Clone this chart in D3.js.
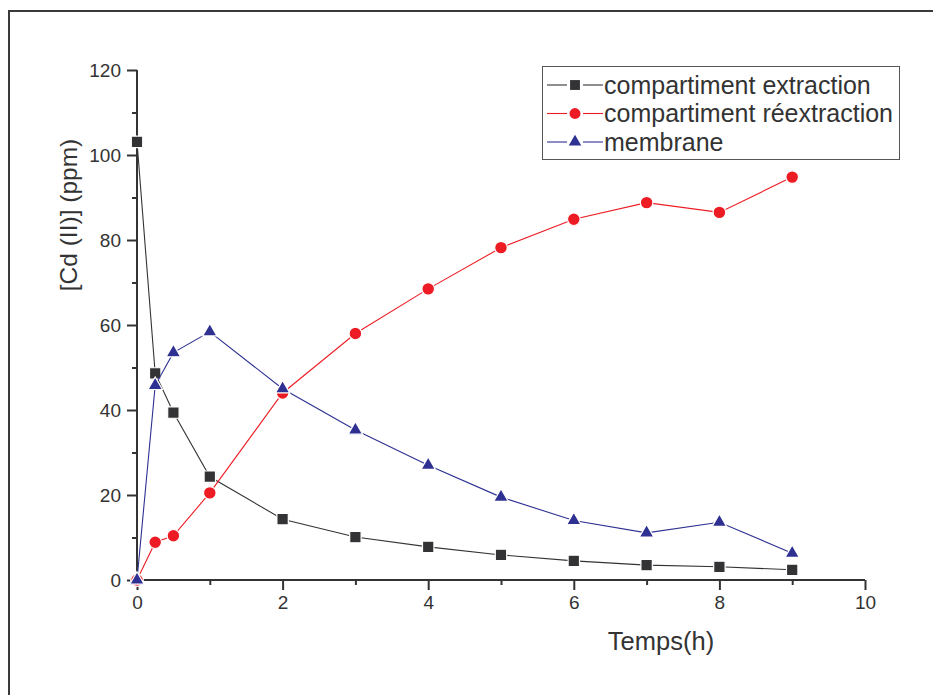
<!DOCTYPE html>
<html>
<head>
<meta charset="utf-8">
<script src="https://cdn.jsdelivr.net/npm/d3@7/dist/d3.min.js"></script>
<style>
  html, body { margin: 0; padding: 0; background: #fff; }
  svg { display: block; }
  text { font-family: "Liberation Sans", Arial, Helvetica, sans-serif; fill: #333; }
</style>
</head>
<body>
<svg id="chart" width="933" height="695"></svg>
<script>
// ---- data ----
const times = [0, 0.25, 0.5, 1, 2, 3, 4, 5, 6, 7, 8, 9];
const extraction = [103.1, 48.6, 39.4, 24.3, 14.3, 10.1, 7.8, 5.9, 4.5, 3.5, 3.1, 2.4];
const reextraction = [0, 8.9, 10.4, 20.5, 44.0, 58.0, 68.5, 78.2, 84.9, 88.8, 86.5, 94.8];
const membrane = [0, 45.8, 53.5, 58.4, 45.0, 35.3, 27.0, 19.5, 14.0, 11.1, 13.6, 6.3];
const seriesNames = ["compartiment extraction", "compartiment réextraction", "membrane"];
const xTicks = [0, 2, 4, 6, 8, 10];
const yTicks = [0, 20, 40, 60, 80, 100, 120];
const xLabel = "Temps(h)";
const yLabel = "[Cd (II)] (ppm)";

const svg = d3.select("#chart");
const W = 933, H = 695;

// outer frame
svg.append("path")
  .attr("d", `M9,${H + 5} L9,11 L${W + 5},11`)
  .attr("fill", "none").attr("stroke", "#3a3a3a").attr("stroke-width", 2);

const x = d3.scaleLinear().domain([0, 10]).range([137, 865]);
const y = d3.scaleLinear().domain([0, 120]).range([580, 70]);

const axisColor = "#333";

// X axis
const gx = svg.append("g").attr("transform", `translate(0,${y(0)})`);
gx.call(d3.axisBottom(x).tickValues(xTicks).tickSize(10).tickPadding(6).tickFormat(d3.format("d")));
gx.append("g").call(d3.axisBottom(x).tickValues(d3.range(1, 10, 2)).tickSize(5).tickFormat(""));
gx.selectAll(".domain").attr("stroke", axisColor).attr("stroke-width", 2).attr("d", `M${x(0)},0H${x(10)}`);
gx.selectAll(".tick line").attr("stroke", axisColor).attr("stroke-width", 2);
gx.selectAll(".tick text").attr("font-size", 19).attr("fill", "#333")
  .attr("font-family", "Liberation Sans, Arial, sans-serif");

// Y axis
const gy = svg.append("g").attr("transform", `translate(${x(0)},0)`);
gy.call(d3.axisLeft(y).tickValues(yTicks).tickSize(10).tickPadding(6).tickFormat(d3.format("d")));
gy.append("g").call(d3.axisLeft(y).tickValues(d3.range(10, 120, 20)).tickSize(5).tickFormat(""));
gy.selectAll(".domain").attr("stroke", axisColor).attr("stroke-width", 2).attr("d", `M0,${y(0)}V${y(120)}`);
gy.selectAll(".tick line").attr("stroke", axisColor).attr("stroke-width", 2);
gy.selectAll(".tick text").attr("font-size", 19).attr("fill", "#333")
  .attr("font-family", "Liberation Sans, Arial, sans-serif");

// axis titles
svg.append("text").attr("x", 661).attr("y", 650).attr("text-anchor", "middle")
  .attr("font-size", 25.5).text(xLabel);
svg.append("text").attr("transform", "translate(77,215) rotate(-90)").attr("text-anchor", "middle")
  .attr("font-size", 24.5).text(yLabel);

// series
const series = [
  { name: seriesNames[0], values: extraction, color: "#333336", symbol: d3.symbolSquare, size: 130 },
  { name: seriesNames[1], values: reextraction, color: "#ed1c24", symbol: d3.symbolCircle, size: 125 },
  { name: seriesNames[2], values: membrane, color: "#2e3192", symbol: d3.symbolTriangle, size: 90 }
];

const line = d3.line().x(d => x(d[0])).y(d => y(d[1]));

series.forEach(s => {
  const pts = times.map((t, i) => [t, s.values[i]]);
  const g = svg.append("g");
  g.append("path").attr("d", line(pts)).attr("fill", "none")
    .attr("stroke", s.color).attr("stroke-width", 1.1);
  g.selectAll("path.m").data(pts).join("path").attr("class", "m")
    .attr("transform", d => `translate(${x(d[0])},${y(d[1])})`)
    .attr("d", d3.symbol().type(s.symbol).size(s.size))
    .attr("fill", s.color).attr("stroke", "#fff").attr("stroke-width", 1.2);
});

// legend
const lg = svg.append("g");
lg.append("rect").attr("x", 542.5).attr("y", 66.5).attr("width", 357).attr("height", 93)
  .attr("fill", "#fff").attr("stroke", "#555").attr("stroke-width", 1);
series.forEach((s, i) => {
  const cy = 85 + i * 28.5;
  lg.append("line").attr("x1", 547).attr("x2", 567).attr("y1", cy).attr("y2", cy)
    .attr("stroke", s.color).attr("stroke-width", 1.1);
  lg.append("line").attr("x1", 583).attr("x2", 603).attr("y1", cy).attr("y2", cy)
    .attr("stroke", s.color).attr("stroke-width", 1.1);
  lg.append("path").attr("transform", `translate(575,${cy})`)
    .attr("d", d3.symbol().type(s.symbol).size(s.size * 0.75))
    .attr("fill", s.color);
  lg.append("text").attr("x", 604).attr("y", cy + 8.5).attr("font-size", 25).text(s.name);
});
</script>
</body>
</html>
